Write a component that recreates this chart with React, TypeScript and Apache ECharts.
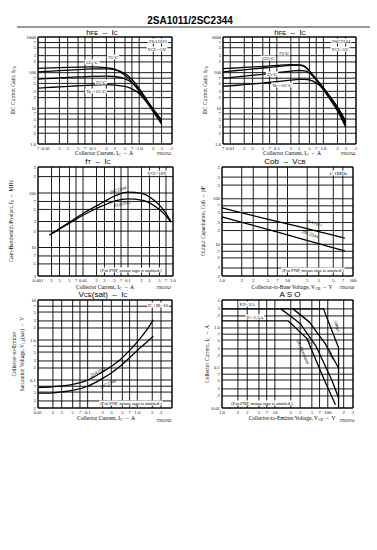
import React, { useEffect, useRef } from "react";
import * as echarts from "echarts";

const SERIF = '"Liberation Serif","Times New Roman",serif';
const SANS = '"Liberation Sans",Arial,sans-serif';

// ---------- tick values / labels ----------
const hfeXTicks = [0.007, 0.01, 0.02, 0.03, 0.05, 0.07, 0.1, 0.2, 0.3, 0.5, 0.7, 1, 2, 3, 5];
const hfeXLabelsPNP = ["7", "-0.01", "2", "3", "5", "7", "-0.1", "2", "3", "5", "7", "-1.0", "2", "3", "5"];
const hfeXLabelsNPN = ["7", "0.01", "2", "3", "5", "7", "0.1", "2", "3", "5", "7", "1.0", "2", "3", "5"];
const hfeYTicks = [1, 2, 3, 5, 7, 10, 20, 30, 50, 70, 100, 200, 300, 500, 700, 1000];
const hfeYLabels = ["1.0", "2", "3", "5", "7", "10", "2", "3", "5", "7", "100", "2", "3", "5", "7", "1000"];

const ftXTicks = [0.001, 0.002, 0.003, 0.005, 0.007, 0.01, 0.02, 0.03, 0.05, 0.07, 0.1, 0.2, 0.3, 0.5, 0.7, 1];
const ftXLabels = ["0.001", "2", "3", "5", "7", "0.01", "2", "3", "5", "7", "0.1", "2", "3", "5", "7", "1.0"];
const ftYTicks = [3, 5, 7, 10, 20, 30, 50, 70, 100, 200, 300];
const ftYLabels = ["3", "5", "7", "10", "2", "3", "5", "7", "100", "2", "3"];

const cobXTicks = [1, 2, 3, 5, 7, 10, 20, 30, 50, 70, 100];
const cobXLabels = ["1.0", "2", "3", "5", "7", "10", "2", "3", "5", "7", "100"];
const cobYTicks = [2, 3, 5, 7, 10, 20, 30, 50, 70, 100, 200, 300, 500];
const cobYLabels = ["2", "3", "5", "7", "10", "2", "3", "5", "7", "100", "2", "3", "5"];

const satXTicks = [0.01, 0.02, 0.03, 0.05, 0.07, 0.1, 0.2, 0.3, 0.5, 0.7, 1, 2, 3, 5];
const satXLabels = ["0.01", "2", "3", "5", "7", "0.1", "2", "3", "5", "7", "1.0", "2", "3", ""];
const satYTicks = [0.02, 0.03, 0.05, 0.07, 0.1, 0.2, 0.3, 0.5, 0.7, 1, 2, 3, 5, 7, 10];
const satYLabels = ["2", "3", "5", "7", "0.1", "2", "3", "5", "7", "1.0", "2", "3", "5", "7", "10"];

const asoXTicks = [1, 2, 3, 5, 7, 10, 20, 30, 50, 70, 100, 200, 300];
const asoXLabels = ["1.0", "2", "3", "5", "7", "10", "2", "3", "5", "7", "100", "2", "3"];
const asoYTicks = [0.01, 0.02, 0.03, 0.05, 0.07, 0.1, 0.2, 0.3, 0.5, 0.7, 1, 2, 3, 5];
const asoYLabels = ["0.01", "2", "3", "5", "7", "0.1", "2", "3", "5", "7", "1.0", "2", "3", "5"];

// ---------- series data ----------
// hFE - IC, 2SA1011 (|IC| in A)
const hfeAIc = [0.007, 0.01, 0.02, 0.05, 0.1, 0.2, 0.3, 0.5, 0.7, 1.0, 1.5, 2, 3];
const hfeA125 = [132, 134, 138, 143, 145, 138, 125, 85, 55, 30, 14, 8, 3.6];
const hfeA75 = [105, 108, 114, 122, 127, 127, 122, 95, 65, 36, 16, 9, 4.0];
const hfeA25 = [66, 68, 71, 76, 79, 80, 78, 67, 52, 33, 16, 9.5, 4.5];
const hfeAm25 = [37, 38, 40, 43, 45, 46, 45, 41, 35, 26, 14, 9, 4.8];

// hFE - IC, 2SC2344
const hfeCIc = [0.007, 0.01, 0.02, 0.05, 0.1, 0.2, 0.3, 0.4, 0.6, 1.0, 2, 3];
const hfeC125 = [130, 133, 140, 150, 160, 168, 165, 150, 80, 33, 8.5, 3.0];
const hfeC75 = [105, 110, 120, 135, 148, 160, 160, 148, 85, 36, 9.5, 3.4];
const hfeC25 = [70, 73, 80, 90, 100, 110, 115, 112, 80, 38, 10.5, 3.8];
const hfeCm25 = [42, 43, 46, 51, 56, 62, 65, 65, 58, 35, 11, 4.3];

// fT - IC
const ftIc = [0.0018, 0.003, 0.005, 0.01, 0.02, 0.03, 0.05, 0.1, 0.2, 0.3, 0.5, 0.7, 0.9];
const ft2SC2344 = [17, 22, 29, 42, 58, 70, 88, 104, 98, 85, 60, 42, 30];
const ft2SA1011 = [17, 22, 28, 39, 52, 60, 71, 78, 74, 66, 50, 38, 29];

// Cob - VCB
const cobVcb = [1, 3, 10, 30, 75];
const cob2SA1011 = [63, 42.5, 28, 19, 13.7];
const cob2SC2344 = [40, 26, 16, 10.3, 7.1];

// VCE(sat) - IC
const satIc = [0.01, 0.02, 0.05, 0.1, 0.2, 0.3, 0.45, 0.7, 1.0, 1.5, 2.1];
const sat2SA1011 = [0.066, 0.068, 0.078, 0.1, 0.16, 0.22, 0.32, 0.55, 0.9, 1.7, 3.2];
const sat2SC2344 = [0.047, 0.048, 0.055, 0.07, 0.11, 0.15, 0.22, 0.36, 0.55, 0.85, 1.25];

// ASO  ([VCE, IC])
const aso100us = [[1, 3], [83, 3], [160, 0.32], [160, 0.01]];
const aso1ms = [[22, 3], [45, 1.4], [90, 0.4], [160, 0.1]];
const aso10ms = [[13, 3], [30, 1.3], [60, 0.35], [119, 0.05], [160, 0.018]];
const asoDC = [[1, 1.5], [18, 1.5], [40, 0.55], [86, 0.05], [140, 0.012]];

// ---------- layout ----------
const GRIDS = [
  { left: 38, top: 37, width: 134, height: 107 },
  { left: 223, top: 37, width: 133, height: 107 },
  { left: 38, top: 167, width: 135, height: 109 },
  { left: 222, top: 167, width: 131, height: 109 },
  { left: 38, top: 300, width: 134, height: 108 },
  { left: 222, top: 300, width: 131, height: 108 },
];
const RANGES = [
  { x: [0.007, 5], y: [1, 1000] },
  { x: [0.007, 5], y: [1, 1000] },
  { x: [0.001, 1], y: [3, 300] },
  { x: [1, 100], y: [2, 500] },
  { x: [0.01, 5], y: [0.02, 10] },
  { x: [1, 300], y: [0.01, 5] },
];

const TICK_FONT = 4.8;
const GRID_STROKE = "#000";
const GRID_W = 0.9;

function gridSeries(i: number, xt: number[], xl: string[], yt: number[], yl: string[]) {
  const x0 = RANGES[i].x[0];
  const x1 = RANGES[i].x[1];
  const y0 = RANGES[i].y[0];
  const y1 = RANGES[i].y[1];
  return [
    {
      type: "custom",
      xAxisIndex: i,
      yAxisIndex: i,
      silent: true,
      z: 1,
      data: xt.map((v) => [v, y0]),
      encode: { x: 0, y: 1 },
      renderItem: (params: any, api: any) => {
        const v = api.value(0);
        const a = api.coord([v, y0]);
        const b = api.coord([v, y1]);
        return {
          type: "group",
          children: [
            { type: "line", shape: { x1: a[0], y1: a[1], x2: b[0], y2: b[1] }, style: { stroke: GRID_STROKE, lineWidth: GRID_W } },
            {
              type: "text",
              x: a[0],
              y: a[1] + 2,
              style: {
                text: xl[params.dataIndex], fontSize: TICK_FONT, fontFamily: SERIF, fill: "#111",
                align: "center", verticalAlign: "top", textAlign: "center", textVerticalAlign: "top",
              },
            },
          ],
        };
      },
    },
    {
      type: "custom",
      xAxisIndex: i,
      yAxisIndex: i,
      silent: true,
      z: 1,
      data: yt.map((v) => [x0, v]),
      encode: { x: 0, y: 1 },
      renderItem: (params: any, api: any) => {
        const v = api.value(1);
        const a = api.coord([x0, v]);
        const b = api.coord([x1, v]);
        return {
          type: "group",
          children: [
            { type: "line", shape: { x1: a[0], y1: a[1], x2: b[0], y2: b[1] }, style: { stroke: GRID_STROKE, lineWidth: GRID_W } },
            {
              type: "text",
              x: a[0] - 2,
              y: a[1],
              style: {
                text: yl[params.dataIndex], fontSize: TICK_FONT, fontFamily: SERIF, fill: "#111",
                align: "right", verticalAlign: "middle", textAlign: "right", textVerticalAlign: "middle",
              },
            },
          ],
        };
      },
    },
  ];
}

function curve(i: number, name: string, xs: number[], ys: number[], smooth = 0.35) {
  return {
    type: "line",
    name,
    xAxisIndex: i,
    yAxisIndex: i,
    data: xs.map((x, k) => [x, ys[k]]),
    showSymbol: false,
    symbol: "none",
    smooth,
    silent: true,
    z: 5,
    lineStyle: { color: "#000", width: 1.3 },
  };
}

function pairs(i: number, name: string, pts: number[][]) {
  return {
    type: "line",
    name,
    xAxisIndex: i,
    yAxisIndex: i,
    data: pts,
    showSymbol: false,
    symbol: "none",
    silent: true,
    z: 5,
    lineStyle: { color: "#000", width: 1.3 },
  };
}

function T(x: number, y: number, text: string, o: any = {}) {
  const size = o.size || 5.5;
  return {
    type: "text",
    x,
    y,
    rotation: o.rot || 0,
    z: 100,
    silent: true,
    style: {
      text,
      fontSize: size,
      fontFamily: o.family || SERIF,
      fontWeight: o.weight || "normal",
      fill: "#000",
      align: o.align || "center",
      verticalAlign: o.va || "middle",
      textAlign: o.align || "center",
      textVerticalAlign: o.va || "middle",
      backgroundColor: o.bg,
      padding: o.bg ? [0, 1, 0, 1] : 0,
      rich: {
        s: { fontSize: size * 0.72, fontFamily: o.family || SERIF, verticalAlign: "bottom", fill: "#000" },
      },
    },
  };
}

function buildOption() {
  const series: any[] = [
    ...gridSeries(0, hfeXTicks, hfeXLabelsPNP, hfeYTicks, hfeYLabels),
    ...gridSeries(1, hfeXTicks, hfeXLabelsNPN, hfeYTicks, hfeYLabels),
    ...gridSeries(2, ftXTicks, ftXLabels, ftYTicks, ftYLabels),
    ...gridSeries(3, cobXTicks, cobXLabels, cobYTicks, cobYLabels),
    ...gridSeries(4, satXTicks, satXLabels, satYTicks, satYLabels),
    ...gridSeries(5, asoXTicks, asoXLabels, asoYTicks, asoYLabels),
    curve(0, "125°C", hfeAIc, hfeA125),
    curve(0, "75°C", hfeAIc, hfeA75),
    curve(0, "25°C", hfeAIc, hfeA25),
    curve(0, "-25°C", hfeAIc, hfeAm25),
    curve(1, "125°C", hfeCIc, hfeC125),
    curve(1, "75°C", hfeCIc, hfeC75),
    curve(1, "25°C", hfeCIc, hfeC25),
    curve(1, "-25°C", hfeCIc, hfeCm25),
    curve(2, "2SC2344", ftIc, ft2SC2344),
    curve(2, "2SA1011", ftIc, ft2SA1011),
    curve(3, "2SA1011", cobVcb, cob2SA1011),
    curve(3, "2SC2344", cobVcb, cob2SC2344),
    curve(4, "2SA1011", satIc, sat2SA1011),
    curve(4, "2SC2344", satIc, sat2SC2344),
    pairs(5, "100us", aso100us),
    pairs(5, "1ms", aso1ms),
    pairs(5, "10ms", aso10ms),
    pairs(5, "DC", asoDC),
  ];

  const P2 = Math.PI / 2;
  const elements: any[] = [
    T(190, 20, "2SA1011/2SC2344", { size: 10, family: SANS, weight: "bold" }),
    { type: "line", z: 100, shape: { x1: 17, y1: 27, x2: 370, y2: 27 }, style: { stroke: "#333", lineWidth: 1 } },

    // chart titles
    T(102, 32, "h{s|FE}  –  I{s|C}", { size: 8, family: SANS }),
    T(290, 32, "h{s|FE}  –  I{s|C}", { size: 8, family: SANS }),
    T(98, 161, "f{s|T}  –  I{s|C}", { size: 8, family: SANS }),
    T(285, 161, "Cob  –  V{s|CB}", { size: 8, family: SANS }),
    T(103, 294, "V{s|CE}(sat)  –  I{s|C}", { size: 8, family: SANS }),
    T(290, 294, "A S O", { size: 8, family: SANS }),

    // y axis titles
    T(13, 90, "DC Current Gain, h{s|FE}", { rot: P2 }),
    T(205, 90, "DC Current Gain, h{s|FE}", { rot: P2 }),
    T(11, 221, "Gain-Bandwidth Product, f{s|T}  –  MHz", { rot: P2 }),
    T(203, 221, "Output Capacitance, Cob  –  pF", { rot: P2 }),
    T(14, 354, "Collector-to-Emitter", { rot: P2 }),
    T(22, 354, "Saturation Voltage, V{s|CE}(sat)  –  V", { rot: P2 }),
    T(207, 354, "Collector Current, I{s|C}  –  A", { rot: P2 }),

    // x axis titles
    T(104, 153, "Collector Current, I{s|C}  –  A"),
    T(292, 153, "Collector Current, I{s|C}  –  A"),
    T(105, 287, "Collector Current, I{s|C}  –  A"),
    T(292, 287, "Collector-to-Base Voltage, V{s|CB}  –  V"),
    T(106, 418, "Collector Current, I{s|C}  –  A"),
    T(292, 418, "Collector-to-Emitter Voltage, V{s|CE}  –  V"),

    // drawing codes
    T(164, 154, "ITR02943", { size: 3.5 }),
    T(348, 154, "ITR02944", { size: 3.5 }),
    T(164, 288, "ITR02947", { size: 3.5 }),
    T(347, 288, "ITR02948", { size: 3.5 }),
    T(164, 421, "ITR02949", { size: 3.5 }),
    T(347, 421, "ITR02950", { size: 3.5 }),

    // chart 1 annotations
    T(158, 41, "2SA1011", { size: 5, bg: "#fff" }),
    T(157, 49, "V{s|CE}=-5V", { size: 5, bg: "#fff" }),
    T(113, 57, "75°C", { size: 5, bg: "#fff" }),
    T(92, 62, "125°C", { size: 5, bg: "#fff" }),
    T(101, 82, "25°C", { size: 5, bg: "#fff" }),
    T(96, 91, "Ta=-25°C", { size: 5, bg: "#fff" }),

    // chart 2 annotations
    T(341, 41, "2SC2344", { size: 5, bg: "#fff" }),
    T(340, 49, "V{s|CE}=5V", { size: 5, bg: "#fff" }),
    T(284, 53, "75°C", { size: 5, bg: "#fff" }),
    T(268, 58, "125°C", { size: 5, bg: "#fff" }),
    T(272, 74, "25°C", { size: 5, bg: "#fff" }),
    T(282, 85, "Ta=-25°C", { size: 5, bg: "#fff" }),

    // chart 3 annotations
    T(157, 173, "V{s|CE}=10V", { size: 5, bg: "#fff" }),
    T(118, 190, "2SC2344", { size: 4.6, rot: 0.3 }),
    T(122, 204, "2SA1011", { size: 4.6, rot: 0.2 }),
    T(131, 270, "(For PNP, minus sign is omitted.)", { size: 4.6, bg: "#fff" }),

    // chart 4 annotations
    T(348, 173, "f=1MHz", { size: 5, align: "right", bg: "#fff" }),
    T(314, 223, "2SA1011", { size: 4.6, rot: -0.3 }),
    T(310, 234, "2SC2344", { size: 4.6, rot: -0.33 }),
    T(313, 270, "(For PNP, minus sign is omitted.)", { size: 4.6, bg: "#fff" }),

    // chart 5 annotations
    T(158, 305, "I{s|C} / I{s|B}=10", { size: 5, bg: "#fff" }),
    T(98, 372, "2SA1011", { size: 4.6, rot: 0.45 }),
    T(108, 384, "2SC2344", { size: 4.6, rot: 0.4 }),
    T(131, 403, "(For PNP, minus sign is omitted.)", { size: 4.6, bg: "#fff" }),

    // chart 6 annotations
    T(247, 304, "I{s|CP}=3A", { size: 5, bg: "#fff" }),
    T(255, 317, "I{s|C}=1.5A", { size: 5, bg: "#fff" }),
    T(337, 326, "100µs", { size: 4.6, rot: -1.2 }),
    T(309, 341, "1ms", { size: 4.6, rot: -1.1 }),
    T(331, 355, "10ms", { size: 4.6, rot: -1.1 }),
    T(303, 352, "DC Operation", { size: 4.6, rot: -1.15 }),
    T(262, 403, "(For PNP, minus sign is omitted.)", { size: 4.6, bg: "#fff" }),
  ];

  return {
    animation: false,
    backgroundColor: "#fff",
    grid: GRIDS.map((g) => ({ ...g, show: true, borderColor: "#000", borderWidth: 1, backgroundColor: "transparent", containLabel: false })),
    xAxis: RANGES.map((r, i) => ({
      type: "log", logBase: 10, gridIndex: i, min: r.x[0], max: r.x[1],
      axisLabel: { show: false }, axisTick: { show: false }, axisLine: { show: false }, splitLine: { show: false },
    })),
    yAxis: RANGES.map((r, i) => ({
      type: "log", logBase: 10, gridIndex: i, min: r.y[0], max: r.y[1],
      axisLabel: { show: false }, axisTick: { show: false }, axisLine: { show: false }, splitLine: { show: false },
    })),
    series,
    graphic: { elements },
  };
}

export default function App() {
  const ref = useRef<HTMLDivElement>(null);
  useEffect(() => {
    const chart = echarts.init(ref.current as HTMLDivElement, null, { renderer: "svg" });
    chart.setOption(buildOption() as any);
    return () => chart.dispose();
  }, []);
  return (
    <div
      ref={ref}
      style={{ position: "absolute", left: 0, top: 0, width: 377, height: 550, background: "#fff" }}
    />
  );
}
